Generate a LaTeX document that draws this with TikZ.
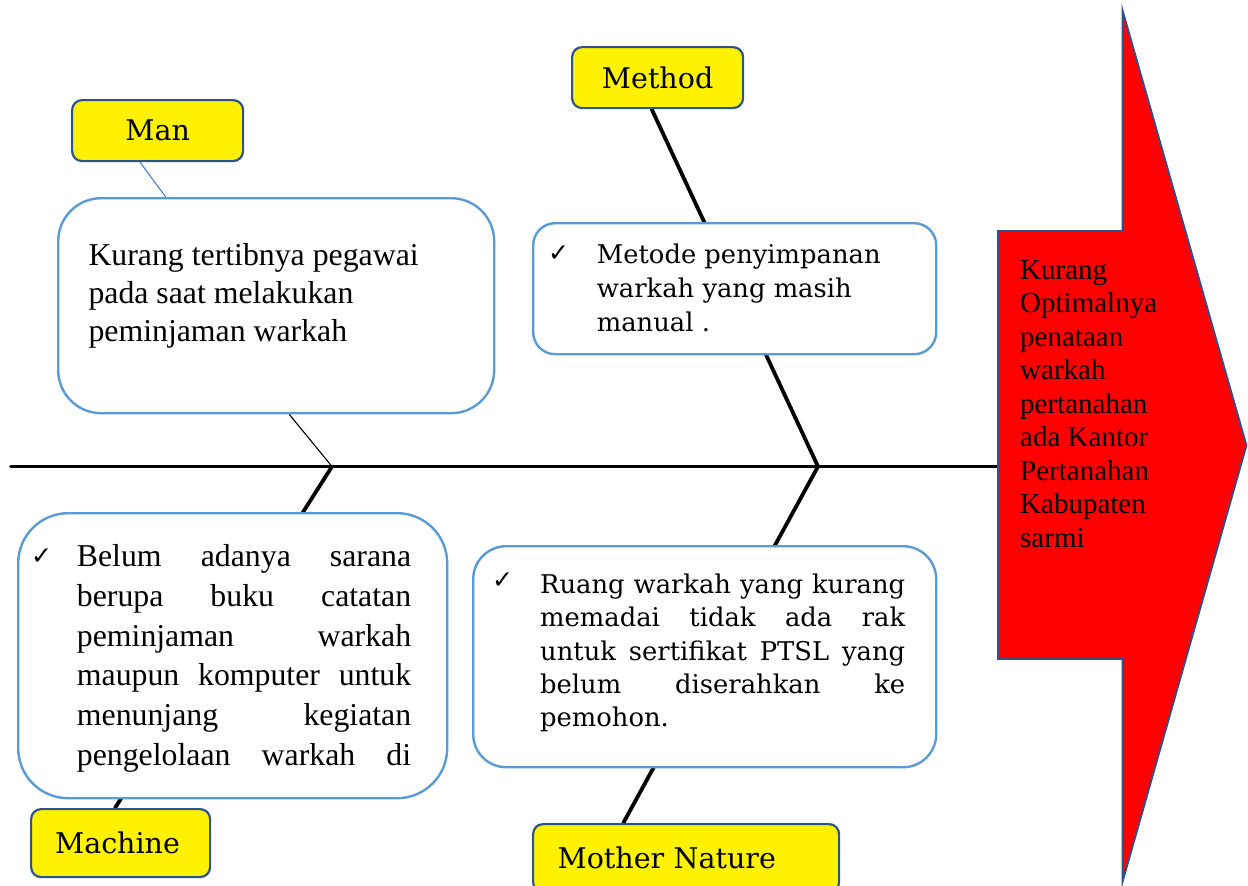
\documentclass[tikz,border=0pt]{standalone}
\usepackage{fontspec}
\setmainfont{Liberation Serif}
\newfontfamily\bookfont{DejaVu Serif}
\newfontfamily\chkfont{DejaVu Sans}
\usetikzlibrary{calc}
\pgfdeclarelayer{bg}
\pgfsetlayers{bg,main}
\definecolor{boxblue}{HTML}{5B9BD5}
\definecolor{lblblue}{HTML}{2F528F}
\definecolor{linkblue}{HTML}{4472C4}
\begin{document}
\begin{tikzpicture}[x=1pt,y=-1pt,
  lbl/.style={draw=lblblue, line width=2.2pt, fill=yellow, rounded corners=10pt,
    inner sep=0pt, anchor=north west, font=\bookfont\fontsize{28.5}{34}\selectfont},
  cbox/.style={draw=boxblue, line width=2.4pt, fill=white, rounded corners=#1,
    inner sep=0pt, anchor=north west},
  txt/.style={inner sep=0pt, anchor=base west},
  chk/.style={inner sep=0pt, anchor=base west, font=\chkfont\fontsize{25}{28}\selectfont},
  bone/.style={line width=3.8pt, line cap=round},
  thinbone/.style={line width=1.1pt},
  link/.style={draw=linkblue, line width=1pt}]
\useasboundingbox (0,0) rectangle (1248,886);

% labels
\node[lbl, minimum width=171pt, minimum height=61pt] (manlbl) at (71,99) {Man};
\node[lbl, minimum width=171pt, minimum height=61pt] (metlbl) at (571,46) {Method};
\node[lbl, minimum width=179pt, minimum height=68pt, text width=131pt, align=left] (machlbl) at (30,808) {Machine};
\node[lbl, minimum width=306pt, minimum height=68pt, text width=257pt, align=left] (motlbl) at (532,823) {Mother Nature};

% cause boxes
\node[cbox=43pt, minimum width=436pt, minimum height=215pt] (manbox) at (57,197) {};
\node[cbox=22pt, minimum width=403pt, minimum height=131pt] (metbox) at (532,222) {};
\node[cbox=50pt, minimum width=429pt, minimum height=285pt] (belbox) at (17,512) {};
\node[cbox=33pt, minimum width=463pt, minimum height=221pt] (motbox) at (472,545) {};

% spine joints
\coordinate (tail) at (11,466.5);
\coordinate (effect) at (998,466.5);
\coordinate (j1) at (332,466.5);
\coordinate (j2) at (818,466.5);

\begin{pgfonlayer}{bg}
  \draw[bone] (tail) -- (effect);
  \draw[bone] (j2) -- ($(metlbl.south west)+(80.7,0)$);
  \draw[bone] (j2) -- ($(motlbl.north west)+(91.3,0)$);
  \draw[bone] (j1) -- ($(machlbl.north west)+(85,0)$);
\end{pgfonlayer}
\draw[thinbone] (j1) -- ($(manbox.south west)+(232.3,0)$);
\draw[link] ($(manlbl.south west)+(69,0)$) -- ($(manbox.north west)+(108.7,0)$);

% effect arrow
\draw[draw=lblblue, line width=1.8pt, fill=red]
  (998,231) -- (1122.5,231) -- (1122.5,10) -- (1246.5,445.5) -- (1122.5,882)
  -- (1122.5,659) -- (998,659) -- cycle;

% texts
\node[txt] (mantxt) at (88.3,265) {\parbox[t]{400pt}{\fontsize{31.8}{38.3}\selectfont
  Kurang tertibnya pegawai\\pada saat melakukan\\peminjaman warkah}};

\node[chk] (metchk) at (548,261) {✓};
\node[txt] (mettxt) at (596.7,263.3) {\parbox[t]{330pt}{\bookfont\fontsize{25.8}{34}\selectfont
  Metode penyimpanan\\warkah yang masih\\manual .}};

\node[chk] (belchk) at (31,564) {✓};
\node[txt] (beltxt) at (76.7,566.7) {\parbox[t]{334.3pt}{\fontsize{31.8}{39.7}\selectfont
  \makebox[\linewidth][s]{Belum adanya sarana}\\
  \makebox[\linewidth][s]{berupa buku catatan}\\
  \makebox[\linewidth][s]{peminjaman warkah}\\
  \makebox[\linewidth][s]{maupun komputer untuk}\\
  \makebox[\linewidth][s]{menunjang kegiatan}\\
  \makebox[\linewidth][s]{pengelolaan warkah di}}};

\node[chk] (motchk) at (492,588) {✓};
\node[txt] (mottxt) at (540,593.3) {\parbox[t]{365pt}{\bookfont\fontsize{25.8}{33.4}\selectfont
  \makebox[\linewidth][s]{Ruang warkah yang kurang}\\
  \makebox[\linewidth][s]{memadai tidak ada rak}\\
  \makebox[\linewidth][s]{untuk sertifikat PTSL yang}\\
  \makebox[\linewidth][s]{belum diserahkan ke}\\
  pemohon.}};

\node[txt] (efftxt) at (1020,279) {\parbox[t]{200pt}{\fontsize{29}{33.5}\selectfont
  Kurang\\Optimalnya\\penataan\\warkah\\pertanahan\\ada Kantor\\Pertanahan\\Kabupaten\\sarmi}};
\end{tikzpicture}
\end{document}
